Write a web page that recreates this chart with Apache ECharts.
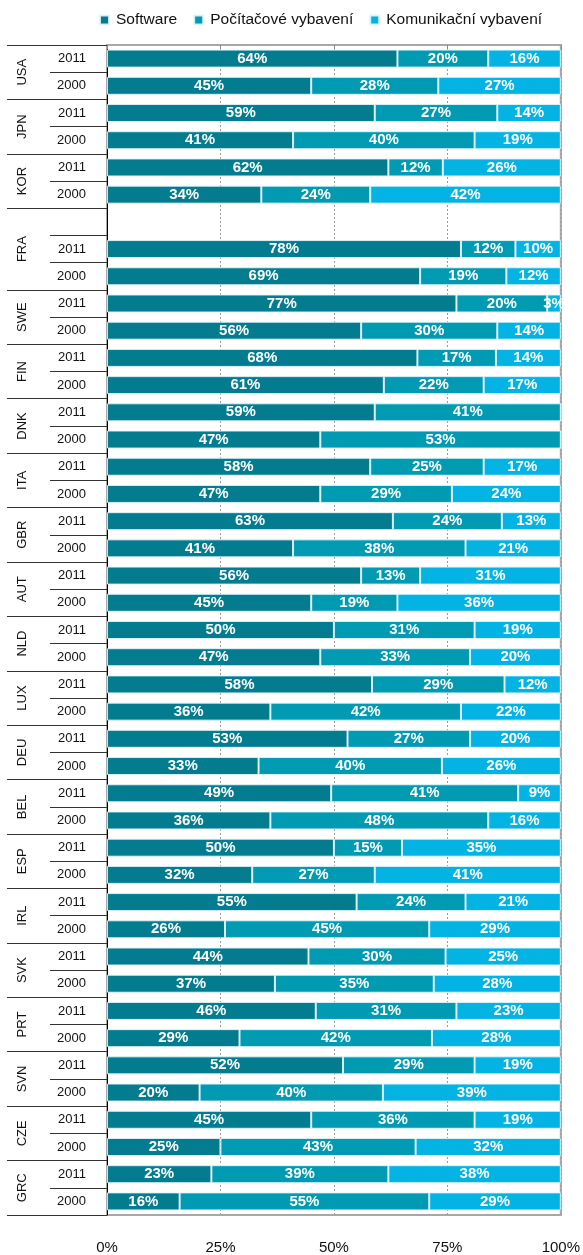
<!DOCTYPE html>
<html>
<head>
<meta charset="utf-8">
<script src="https://cdn.jsdelivr.net/npm/echarts@6/dist/echarts.min.js"></script>
<style>
  html, body { margin: 0; padding: 0; background: #fff; }
  #chart { width: 583px; height: 1255px; }
</style>
</head>
<body>
<div id="chart"></div>
<script>
// země odshora dolů, u každé řádek 2011 a 2000
const countries = ['USA', 'JPN', 'KOR', 'FRA', 'SWE', 'FIN', 'DNK', 'ITA', 'GBR', 'AUT', 'NLD',
  'LUX', 'DEU', 'BEL', 'ESP', 'IRL', 'SVK', 'PRT', 'SVN', 'CZE', 'GRC'];
const years = ['2011', '2000'];
const gapBefore = 'FRA'; // prázdný řádek nad Francií

const seriesNames = ['Software', 'Počítačové vybavení', 'Komunikační vybavení'];
const software = [64, 45, 59, 41, 62, 34, 78, 69, 77, 56, 68.4, 61, 59, 47, 58, 47, 63, 41, 56, 45, 50, 47,
  58.4, 36, 53, 33.4, 49.4, 36, 50, 32, 55, 26, 44.4, 37, 46, 29.2, 52, 20.4, 45, 25, 23, 16];
const hardware = [20, 28, 27, 40, 12, 24, 12, 19, 20, 30, 17.3, 22, 41, 53, 25, 29, 24, 38, 13, 19, 31, 33,
  29.2, 42, 27, 40.4, 41.2, 48, 15, 27, 24, 45, 30.2, 35, 31, 42.4, 29, 40.4, 36, 43, 39, 55];
const comms = [16, 27, 14, 19, 26, 42, 10, 12, 3, 14, 14.3, 17, 0, 0, 17, 24, 13, 21, 31, 36, 19, 20,
  12.4, 22, 20, 26.2, 9.4, 16, 35, 41, 21, 29, 25.4, 28, 23, 28.4, 19, 39.2, 19, 32, 38, 29];
const xTicks = [0, 25, 50, 75, 100];

const colors = ['#037c90', '#019ab3', '#03b3e3'];

// řádky osy Y + hranice a středy zemí
const rowLabels = [];
const rowIndex = [];
const bounds = [0];
const centers = {};
countries.forEach((c, i) => {
  const start = rowLabels.length;
  if (c === gapBefore) {
    rowLabels.push('');
    rowIndex.push(-1);
  }
  years.forEach((y, j) => {
    rowLabels.push(y);
    rowIndex.push(i * years.length + j);
  });
  const end = rowLabels.length;
  bounds.push(end);
  centers[(start + end) / 2] = c;
});
const nRows = rowLabels.length;

const pick = arr => rowIndex.map(k => (k < 0 ? '-' : arr[k]));

const chart = echarts.init(document.getElementById('chart'));

const makeSeries = (name, arr, k) => ({
  name: name,
  type: 'bar',
  stack: 'total',
  yAxisIndex: 0,
  barWidth: 18,
  data: pick(arr),
  itemStyle: { color: colors[k], borderColor: 'rgba(225,245,250,0.9)', borderWidth: 1 },
  label: {
    show: true,
    position: 'inside',
    color: '#fff',
    fontWeight: 'bold',
    fontSize: 15,
    fontFamily: 'Liberation Sans, Arial, sans-serif',
    formatter: p => (p.value > 0 ? Math.round(p.value) + '%' : '')
  }
});

chart.setOption({
  animation: false,
  textStyle: { fontFamily: 'Liberation Sans, Arial, sans-serif' },
  legend: {
    data: seriesNames,
    left: 99,
    top: 12,
    padding: 0,
    icon: 'rect',
    itemWidth: 9,
    itemHeight: 9,
    itemGap: 16,
    textStyle: { fontSize: 15.5, color: '#111', padding: [0, 0, 0, 2] }
  },
  grid: {
    left: 107,
    right: 21,
    top: 45,
    bottom: 37,
    show: true,
    borderColor: '#a8a8a8',
    borderWidth: 2
  },
  xAxis: {
    type: 'value',
    min: 0,
    max: 100,
    interval: 25,
    axisLine: { show: true, lineStyle: { color: '#a8a8a8', width: 2 } },
    axisTick: { show: true, length: 4, lineStyle: { color: '#888' } },
    splitLine: { show: true, lineStyle: { color: '#9a9a9a', type: [2, 2], width: 1 } },
    axisLabel: {
      margin: 25,
      fontSize: 15,
      color: '#111',
      formatter: v => (xTicks.includes(v) ? v + '%' : '')
    }
  },
  yAxis: [
    {
      type: 'category',
      inverse: true,
      position: 'left',
      data: rowLabels,
      axisLine: { show: true, lineStyle: { color: '#000', width: 1 } },
      axisTick: { show: true, length: 57, interval: 0, lineStyle: { color: '#333' } },
      axisLabel: { interval: 0, margin: 21, fontSize: 13, color: '#111' },
      splitLine: { show: false }
    },
    {
      type: 'value',
      inverse: true,
      position: 'left',
      min: 0,
      max: nRows,
      axisLine: { show: false },
      axisTick: { show: true, length: 100, customValues: bounds, lineStyle: { color: '#333' } },
      axisLabel: {
        customValues: Object.keys(centers).map(Number),
        rotate: 90,
        margin: 78,
        fontSize: 13,
        color: '#111',
        formatter: v => centers[v] || ''
      },
      splitLine: { show: false }
    }
  ],
  series: [
    makeSeries(seriesNames[0], software, 0),
    makeSeries(seriesNames[1], hardware, 1),
    makeSeries(seriesNames[2], comms, 2)
  ]
});
</script>
</body>
</html>
